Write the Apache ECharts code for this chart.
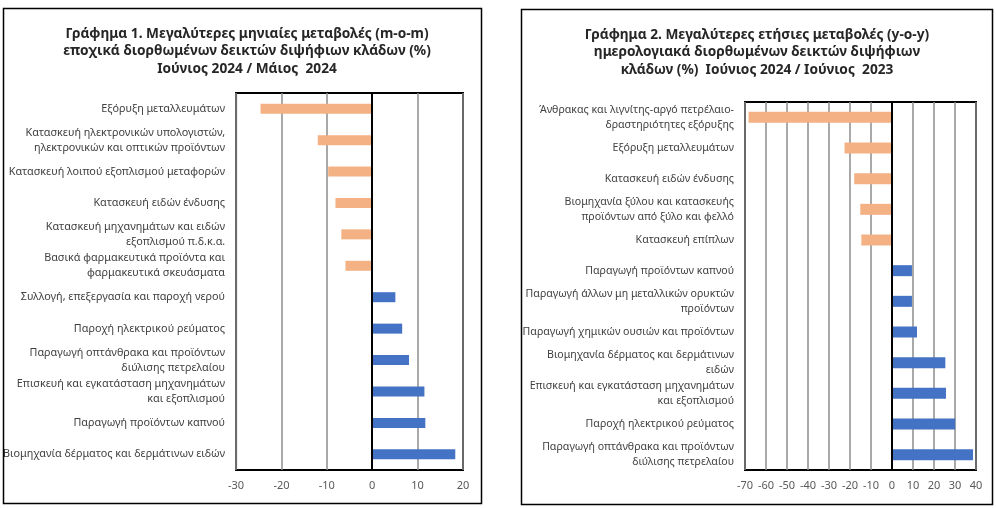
<!DOCTYPE html>
<html>
<head>
<meta charset="utf-8">
<script src="https://cdn.jsdelivr.net/npm/echarts@6/dist/echarts.min.js"></script>
<style>
html,body{margin:0;padding:0;background:#fff;}
#c{width:996px;height:508px;}
</style>
</head>
<body>
<div id="c"></div>
<script>
var title1 = "Γράφημα 1. Μεγαλύτερες μηνιαίες μεταβολές (m-o-m)\nεποχικά διορθωμένων δεικτών διψήφιων κλάδων (%)\nΙούνιος 2024 / Μάιος  2024";
var title2 = "Γράφημα 2. Μεγαλύτερες ετήσιες μεταβολές (y-o-y)\nημερολογιακά διορθωμένων δεικτών διψήφιων\nκλάδων (%)  Ιούνιος 2024 / Ιούνιος  2023";

var categories1 = [
  "Εξόρυξη μεταλλευμάτων",
  "Κατασκευή ηλεκτρονικών υπολογιστών,\nηλεκτρονικών και οπτικών προϊόντων",
  "Κατασκευή λοιπού εξοπλισμού μεταφορών",
  "Κατασκευή ειδών ένδυσης",
  "Κατασκευή μηχανημάτων και ειδών\nεξοπλισμού π.δ.κ.α.",
  "Βασικά φαρμακευτικά προϊόντα και\nφαρμακευτικά σκευάσματα",
  "Συλλογή, επεξεργασία και παροχή νερού",
  "Παροχή ηλεκτρικού ρεύματος",
  "Παραγωγή οπτάνθρακα και προϊόντων\nδιύλισης πετρελαίου",
  "Επισκευή και εγκατάσταση μηχανημάτων\nκαι εξοπλισμού",
  "Παραγωγή προϊόντων καπνού",
  "Βιομηχανία δέρματος και δερμάτινων ειδών"
];
var values1 = [-24.6, -12.0, -9.7, -8.1, -6.8, -5.9, 5.1, 6.6, 8.1, 11.5, 11.7, 18.3];
var ticks1 = {min: -30, max: 20, interval: 10};

var categories2 = [
  "Άνθρακας και λιγνίτης-αργό πετρέλαιο-\nδραστηριότητες εξόρυξης",
  "Εξόρυξη μεταλλευμάτων",
  "Κατασκευή ειδών ένδυσης",
  "Βιομηχανία ξύλου και κατασκευής\nπροϊόντων από ξύλο και φελλό",
  "Κατασκευή επίπλων",
  "Παραγωγή προϊόντων καπνού",
  "Παραγωγή άλλων μη μεταλλικών ορυκτών\nπροϊόντων",
  "Παραγωγή χημικών ουσιών και προϊόντων",
  "Βιομηχανία δέρματος και δερμάτινων\nειδών",
  "Επισκευή και εγκατάσταση μηχανημάτων\nκαι εξοπλισμού",
  "Παροχή ηλεκτρικού ρεύματος",
  "Παραγωγή οπτάνθρακα και προϊόντων\nδιύλισης πετρελαίου"
];
var values2 = [-68.3, -22.6, -18.0, -15.1, -14.6, 9.5, 9.5, 11.9, 25.4, 25.7, 30.1, 38.6];
var ticks2 = {min: -70, max: 40, interval: 10};

var NEG = '#F4B183', POS = '#4472C4';
var FONT = 'Noto Sans';

function barData(vals){
  return vals.map(function(v){
    return {value: v, itemStyle: {color: v < 0 ? NEG : POS}};
  });
}

var chart = echarts.init(document.getElementById('c'), null, {renderer: 'canvas'});

function xAxisCfg(idx, t){
  return {
    type: 'value', gridIndex: idx, min: t.min, max: t.max, interval: t.interval,
    axisLine: {show: false}, axisTick: {show: false},
    axisLabel: {color: '#595959', fontSize: 11, fontFamily: FONT, margin: 10},
    splitLine: {show: true, lineStyle: {color: '#8c8c8c', width: 1.5}}
  };
}
function yAxisCfg(idx, cats, fs){
  return {
    type: 'category', gridIndex: idx, data: cats, inverse: true,
    axisLine: {show: false}, axisTick: {show: false},
    axisLabel: {color: '#404040', fontSize: fs, fontFamily: FONT, margin: 11, lineHeight: 15, align: 'right'},
    splitLine: {show: false}
  };
}
function seriesCfg(idx, vals, bw){
  return {
    type: 'bar', xAxisIndex: idx, yAxisIndex: idx, data: barData(vals),
    barWidth: bw, silent: true,
    markLine: {
      silent: true, symbol: ['none', 'none'], label: {show: false},
      lineStyle: {color: '#000', width: 2, type: 'solid'},
      data: [{xAxis: 0}]
    }
  };
}

var option = {
  animation: false,
  backgroundColor: '#fff',
  title: [
    {text: title1, left: 242, top: 20, textAlign: 'center',
     textStyle: {fontFamily: FONT, fontSize: 13.7, fontWeight: 'bold', color: '#262626', lineHeight: 17.5}},
    {text: title2, left: 752, top: 21, textAlign: 'center',
     textStyle: {fontFamily: FONT, fontSize: 13.7, fontWeight: 'bold', color: '#262626', lineHeight: 17.5}}
  ],
  graphic: [
    {type: 'rect', shape: {x: 3.5, y: 8.5, width: 478, height: 495}, style: {fill: 'none', stroke: '#000', lineWidth: 1.5}, z: 100},
    {type: 'rect', shape: {x: 521.5, y: 9.5, width: 471, height: 495}, style: {fill: 'none', stroke: '#000', lineWidth: 1.5}, z: 100}
  ],
  grid: [
    {left: 235, top: 93, width: 228, height: 377, show: true, borderColor: '#000', borderWidth: 2, backgroundColor: 'transparent', containLabel: false},
    {left: 745, top: 102, width: 231, height: 368, show: true, borderColor: '#000', borderWidth: 2, backgroundColor: 'transparent', containLabel: false}
  ],
  xAxis: [xAxisCfg(0, ticks1), xAxisCfg(1, ticks2)],
  yAxis: [yAxisCfg(0, categories1, 10.8), yAxisCfg(1, categories2, 10.6)],
  series: [seriesCfg(0, values1, 10), seriesCfg(1, values2, 11)]
};
chart.setOption(option);
</script>
</body>
</html>
